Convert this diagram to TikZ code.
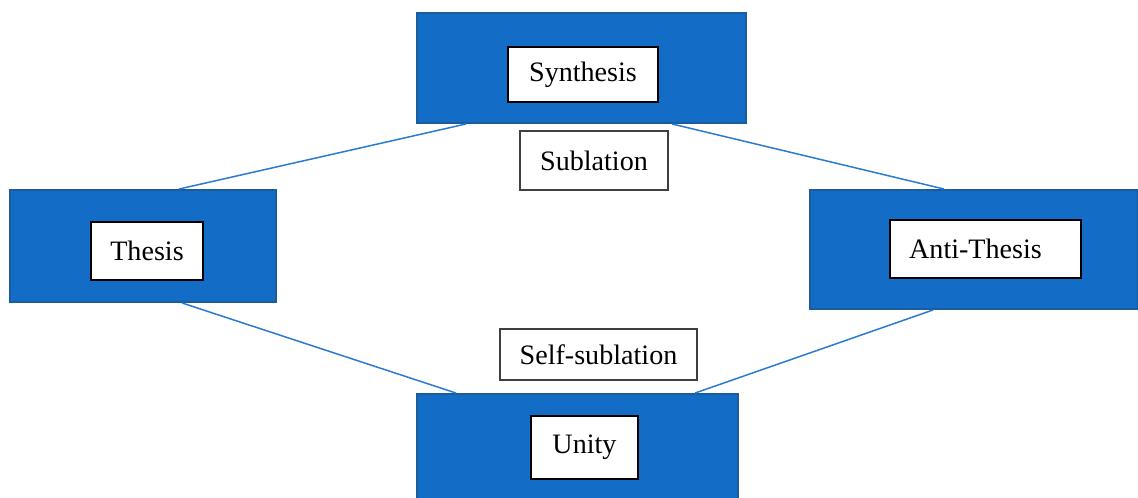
\documentclass[tikz,border=0pt]{standalone}
\usepackage{fontspec}
\setmainfont{Liberation Serif}
\definecolor{boxblue}{HTML}{136CC6}
\definecolor{boxedge}{HTML}{1B5C9C}
\definecolor{linkblue}{HTML}{2A7AD2}
\begin{document}
\begin{tikzpicture}[x=0.02cm,y=-0.02cm,
  bluebox/.style={draw=boxedge,line width=1.1pt,fill=boxblue,inner sep=0pt},
  whitebox/.style={draw=black,line width=0.9pt,fill=white,inner sep=0pt,font=\fontsize{16}{19}\selectfont},
  labelbox/.style={draw=black!75,line width=0.7pt,fill=white,inner sep=0pt,font=\fontsize{16}{19}\selectfont},
  link/.style={draw=linkblue,line width=0.85pt}]
\useasboundingbox (0,0) rectangle (1138,497);
% blue boxes
\node[bluebox,minimum width=6.58cm,minimum height=2.2cm] (synth) at (581.5,68) {};
\node[bluebox,minimum width=5.32cm,minimum height=2.24cm] (thesis) at (143,246) {};
\node[bluebox,minimum width=6.56cm,minimum height=2.38cm] (anti) at (974,249.5) {};
\node[bluebox,minimum width=6.42cm,minimum height=2.24cm] (unity) at (577.5,450) {};
% connectors
\draw[link] ([xshift=1cm]synth.south west) -- ([xshift=3.4cm]thesis.north west);
\draw[link] ([xshift=5.12cm]synth.south west) -- ([xshift=2.7cm]anti.north west);
\draw[link] ([xshift=3.46cm]thesis.south west) -- ([xshift=0.8cm]unity.north west);
\draw[link] ([xshift=2.48cm]anti.south west) -- ([xshift=5.58cm]unity.north west);
% inner labels
\node[whitebox,minimum width=3.0cm,minimum height=1.1cm] (synthl) at (583,74.5) {Synthesis};
\node[whitebox,minimum width=2.24cm,minimum height=1.16cm] (thesisl) at (147,251) {Thesis};
\node[whitebox,minimum width=3.82cm,minimum height=1.16cm] (antil) at (985.5,249) {};
\node[font=\fontsize{16}{19}\selectfont,inner sep=0pt] (antit) at (975.5,249) {Anti-Thesis};
\node[whitebox,minimum width=2.14cm,minimum height=1.26cm] (unityl) at (584.5,447.5) {Unity};
% edge labels
\node[labelbox,minimum width=2.96cm,minimum height=1.18cm] (subl) at (594,160.5) {Sublation};
\node[labelbox,minimum width=3.94cm,minimum height=1.02cm] (selfsubl) at (598.5,354.5) {Self-sublation};
\end{tikzpicture}
\end{document}
